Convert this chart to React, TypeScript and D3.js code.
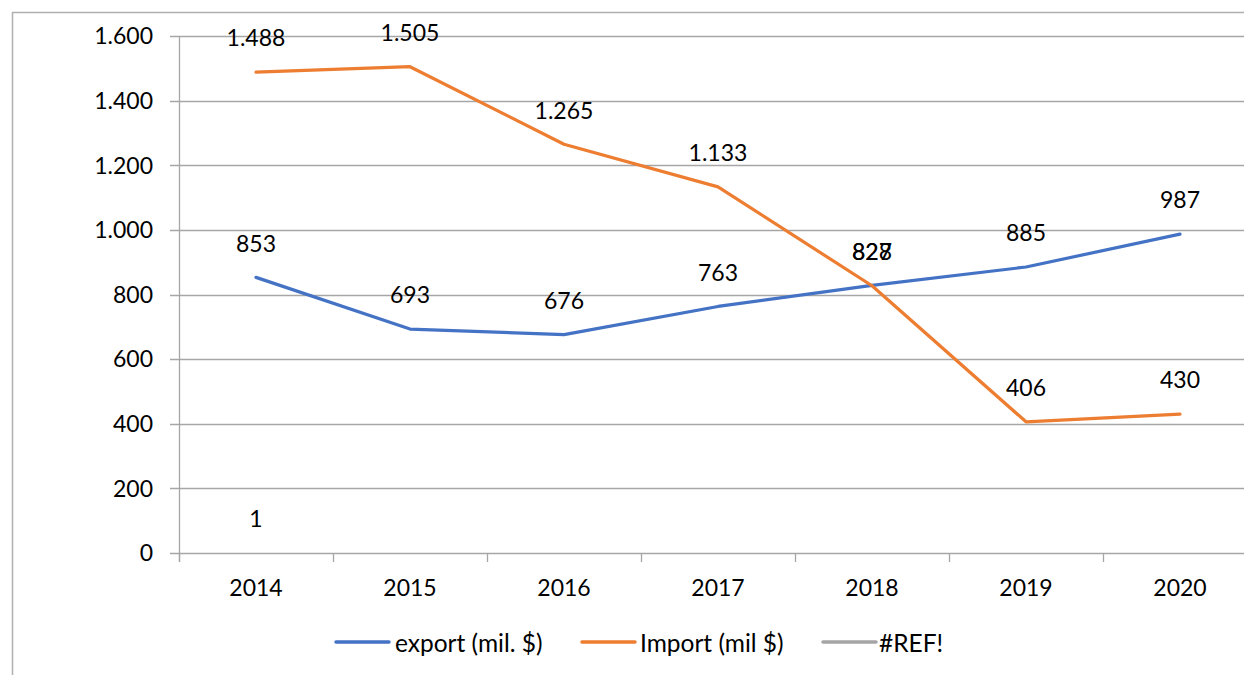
import React, { useEffect, useRef } from 'react';
import * as d3 from 'd3';

const years = ['2014', '2015', '2016', '2017', '2018', '2019', '2020'];
const exportVals = [853, 693, 676, 763, 828, 885, 987];
const importVals = [1488, 1505, 1265, 1133, 827, 406, 430];
const refVals: (number | null)[] = [1, null, null, null, null, null, null];
const yTicks = [0, 200, 400, 600, 800, 1000, 1200, 1400, 1600];

const seriesList = [
  { name: 'export (mil. $)', values: exportVals, color: '#4472C4' },
  { name: 'Import (mil $)', values: importVals, color: '#ED7D31' },
  { name: '#REF!', values: refVals, color: '#A5A5A5' },
];

const App = () => {
  const ref = useRef<SVGSVGElement>(null);

  useEffect(() => {
    const svg = d3.select(ref.current);
    svg.selectAll('*').remove();

    const width = 1244;
    const font = 'Lato, "Open Sans", sans-serif';
    const numSize = '23px';

    // outer chart border (runs past the picture on the right and bottom)
    svg.append('rect')
      .attr('x', 12.5).attr('y', 12.5)
      .attr('width', 1300).attr('height', 700)
      .attr('fill', 'white')
      .attr('stroke', '#b0b0b0')
      .attr('stroke-width', 1.5);

    const x = d3.scaleBand().domain(years).range([179, 1257]);
    const y = d3.scaleLinear().domain([0, 1600]).range([553, 36]);

    // gridlines
    svg.append('g')
      .selectAll('line')
      .data(yTicks)
      .enter().append('line')
        .attr('x1', 170).attr('x2', width)
        .attr('y1', d => Math.round(y(d)) + 0.5)
        .attr('y2', d => Math.round(y(d)) + 0.5)
        .attr('stroke', '#a6a6a6')
        .attr('stroke-width', 1.3);

    // y axis line
    svg.append('line')
      .attr('x1', 179.5).attr('x2', 179.5)
      .attr('y1', y(1600)).attr('y2', 562)
      .attr('stroke', '#a6a6a6').attr('stroke-width', 1.3);

    // x tick marks at band edges
    const edges = years.map(d => x(d) as number).concat([x.range()[1]]);
    svg.append('g')
      .selectAll('line')
      .data(edges)
      .enter().append('line')
        .attr('x1', d => d + 0.5).attr('x2', d => d + 0.5)
        .attr('y1', 553).attr('y2', 562)
        .attr('stroke', '#a6a6a6').attr('stroke-width', 1.3);

    const fmt = (v: number) => d3.format(',')(v).replace(/,/g, '.');

    // y labels
    svg.append('g')
      .selectAll('text')
      .data(yTicks)
      .enter().append('text')
        .attr('x', 153)
        .attr('y', d => y(d))
        .attr('dy', '0.36em')
        .attr('text-anchor', 'end')
        .style('font-family', font)
        .style('font-size', numSize)
        .style('fill', '#000')
        .text(d => fmt(d));

    // x labels
    svg.append('g')
      .selectAll('text')
      .data(years)
      .enter().append('text')
        .attr('x', d => (x(d) as number) + x.bandwidth() / 2)
        .attr('y', 588)
        .attr('dy', '0.36em')
        .attr('text-anchor', 'middle')
        .style('font-family', font)
        .style('font-size', numSize)
        .text(d => d);

    const cx = (i: number) => (x(years[i]) as number) + x.bandwidth() / 2;

    const line = d3.line<number | null>()
      .defined(d => d !== null)
      .x((_, i) => cx(i))
      .y(d => y(d as number));

    seriesList.forEach(s => {
      // a lone point draws no line
      if (s.values.filter(v => v !== null).length < 2) return;
      svg.append('path')
        .datum(s.values)
        .attr('fill', 'none')
        .attr('stroke', s.color)
        .attr('stroke-width', 3.2)
        .attr('stroke-linejoin', 'round')
        .attr('stroke-linecap', 'round')
        .attr('d', line);
    });

    // data labels
    seriesList.forEach(s => {
      s.values.forEach((v, i) => {
        if (v === null) return;
        svg.append('text')
          .attr('x', cx(i))
          .attr('y', y(v) - 34)
          .attr('dy', '0.36em')
          .attr('text-anchor', 'middle')
          .style('font-family', font)
          .style('font-size', numSize)
          .style('fill', '#000')
          .text(fmt(v));
      });
    });

    // legend
    const legend = [
      { x: 336, tx: 395 },
      { x: 582, tx: 640 },
      { x: 823, tx: 879 },
    ];
    seriesList.forEach((s, i) => {
      const g = svg.append('g');
      g.append('line')
        .attr('x1', legend[i].x).attr('x2', legend[i].x + 53)
        .attr('y1', 642).attr('y2', 642)
        .attr('stroke', s.color)
        .attr('stroke-width', 3.5)
        .attr('stroke-linecap', 'round');
      g.append('text')
        .attr('x', legend[i].tx)
        .attr('y', 643)
        .attr('dy', '0.36em')
        .style('font-family', font)
        .style('font-size', '24.5px')
        .text(s.name);
    });
  }, []);

  return (
    <div style={{ position: 'fixed', left: 0, top: 0, background: 'white' }}>
      <svg ref={ref} width={1244} height={675} style={{ display: 'block' }}></svg>
    </div>
  );
};

export default App;
